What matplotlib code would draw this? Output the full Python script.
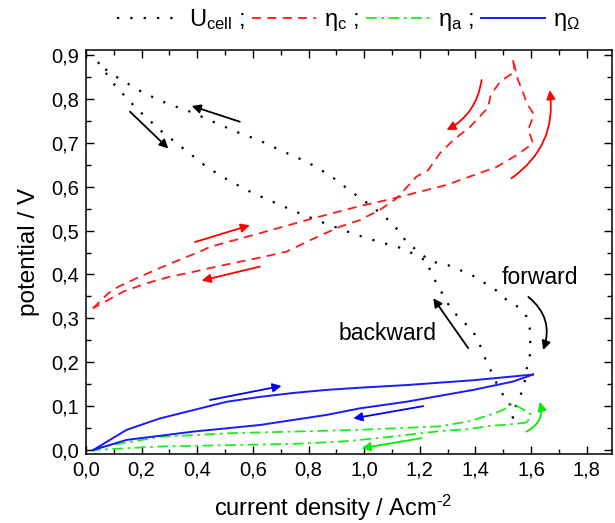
import matplotlib
matplotlib.use("Agg")
import matplotlib.pyplot as plt
from matplotlib.lines import Line2D
from matplotlib.ticker import MultipleLocator, FuncFormatter

plt.rcParams['font.family'] = ['Liberation Sans', 'DejaVu Sans']
plt.rcParams['mathtext.fontset'] = 'custom'
plt.rcParams['mathtext.rm'] = 'Liberation Sans'
plt.rcParams['mathtext.it'] = 'Liberation Sans:italic'
plt.rcParams['mathtext.bf'] = 'Liberation Sans:bold'

# ---------------- data (current density A/cm2, potential V) ----------------
ucell_fwd_x = [0.043, 0.104, 0.182, 0.266, 0.350, 0.434, 0.511, 0.601, 0.685, 0.769, 0.853, 0.973,
               1.056, 1.140, 1.218, 1.302, 1.386, 1.470, 1.512, 1.553, 1.584, 1.595, 1.597, 1.595,
               1.577, 1.577, 1.559, 1.541, 1.535]
ucell_fwd_y = [0.884, 0.831, 0.778, 0.729, 0.687, 0.645, 0.615, 0.585, 0.562, 0.539, 0.518, 0.490,
               0.474, 0.459, 0.433, 0.421, 0.399, 0.366, 0.342, 0.326, 0.304, 0.277, 0.251, 0.205,
               0.173, 0.148, 0.121, 0.095, 0.072]
ucell_bwd_x = [1.535, 1.518, 1.500, 1.480, 1.465, 1.446, 1.416, 1.392, 1.314, 1.260, 1.242, 1.218,
               1.152, 1.122, 1.080, 1.038, 0.997, 0.955, 0.877, 0.793, 0.709, 0.625, 0.541, 0.457,
               0.374, 0.290, 0.206, 0.128, 0.080, 0.043]
ucell_bwd_y = [0.072, 0.118, 0.125, 0.145, 0.170, 0.191, 0.239, 0.270, 0.319, 0.380, 0.402, 0.440,
               0.474, 0.501, 0.528, 0.550, 0.569, 0.588, 0.626, 0.657, 0.680, 0.705, 0.725, 0.748,
               0.771, 0.790, 0.814, 0.843, 0.862, 0.884]

etac_fwd_x = [0.025, 0.080, 0.116, 0.194, 0.278, 0.350, 0.410, 0.446, 0.625, 0.817, 0.973, 1.104,
              1.296, 1.476, 1.548, 1.607, 1.590, 1.610, 1.584, 1.572, 1.553, 1.535]
etac_fwd_y = [0.323, 0.357, 0.372, 0.395, 0.418, 0.437, 0.452, 0.463, 0.494, 0.528, 0.554, 0.573,
              0.604, 0.645, 0.672, 0.699, 0.730, 0.765, 0.790, 0.813, 0.843, 0.888]
etac_bwd_x = [1.535, 1.541, 1.490, 1.455, 1.445, 1.380, 1.320, 1.272, 1.230, 1.188, 1.116, 1.056,
              0.985, 0.913, 0.805, 0.721, 0.637, 0.553, 0.470, 0.386, 0.302, 0.218, 0.134, 0.080,
              0.025]
etac_bwd_y = [0.888, 0.862, 0.840, 0.810, 0.780, 0.736, 0.706, 0.676, 0.638, 0.623, 0.573, 0.547,
              0.524, 0.509, 0.478, 0.452, 0.440, 0.429, 0.418, 0.406, 0.395, 0.380, 0.361, 0.342,
              0.323]

etaa_fwd_x = [0.026, 0.062, 0.266, 0.506, 0.745, 0.985, 1.092, 1.272, 1.380, 1.452, 1.498, 1.535,
              1.577, 1.598, 1.588]
etaa_fwd_y = [0.000, 0.008, 0.030, 0.038, 0.042, 0.046, 0.049, 0.054, 0.066, 0.080, 0.091, 0.106,
              0.090, 0.082, 0.066]
etaa_bwd_x = [1.588, 1.577, 1.500, 1.452, 1.380, 1.272, 1.092, 0.985, 0.913, 0.745, 0.506, 0.266,
              0.026]
etaa_bwd_y = [0.066, 0.062, 0.057, 0.055, 0.048, 0.043, 0.030, 0.023, 0.019, 0.014, 0.011, 0.008,
              0.000]

etaohm_fwd_x = [0.026, 0.146, 0.266, 0.386, 0.506, 0.625, 0.745, 0.865, 0.985, 1.152, 1.392, 1.607]
etaohm_fwd_y = [0.000, 0.046, 0.072, 0.091, 0.110, 0.121, 0.130, 0.137, 0.142, 0.148, 0.159, 0.172]
etaohm_bwd_x = [1.607, 1.535, 1.392, 1.152, 0.985, 0.865, 0.625, 0.386, 0.146, 0.026]
etaohm_bwd_y = [0.172, 0.156, 0.137, 0.110, 0.095, 0.080, 0.057, 0.042, 0.023, 0.000]

# direction arrows: (x_start, y_start, x_end, y_end, color, curvature)
arrows = [
    (0.553, 0.748, 0.380, 0.784, 'black', 0.0),
    (0.158, 0.771, 0.296, 0.687, 'black', 0.0),
    (1.590, 0.349, 1.643, 0.228, 'black', -0.35),
    (1.374, 0.232, 1.248, 0.346, 'black', 0.0),
    (0.392, 0.474, 0.589, 0.512, 'red', 0.0),
    (0.625, 0.418, 0.416, 0.386, 'red', 0.0),
    (1.422, 0.843, 1.296, 0.729, 'red', -0.25),
    (1.529, 0.619, 1.667, 0.820, 'red', 0.3),
    (0.446, 0.114, 0.703, 0.146, 'blue', 0.0),
    (1.212, 0.100, 0.961, 0.072, 'blue', 0.0),
    (1.206, 0.027, 0.991, 0.004, '#00ee00', 0.0),
    (1.583, 0.042, 1.631, 0.110, '#00ee00', 0.4),
]

labels_text = [("forward", 1.631, 0.394), ("backward", 1.083, 0.265)]

# ---------------- figure ----------------
fig = plt.figure(figsize=(6.15, 5.23), dpi=100)
ax = fig.add_axes([0.1398, 0.132, 0.855, 0.772])

ucell_style = dict(color='black', lw=1.6, linestyle=(0, (1, 5)))
etac_style = dict(color='#ff1a1a', lw=1.3, linestyle=(0, (5, 3.5)))
etaa_style = dict(color='#1aee1a', lw=1.3, linestyle=(0, (6, 2.5, 1.5, 2.5)))
etaohm_style = dict(color='#1a1aff', lw=1.4, linestyle='-')

ax.plot(ucell_fwd_x, ucell_fwd_y, **ucell_style)
ax.plot(ucell_bwd_x, ucell_bwd_y, **ucell_style)
ax.plot(etac_fwd_x, etac_fwd_y, **etac_style)
ax.plot(etac_bwd_x, etac_bwd_y, **etac_style)
ax.plot(etaa_fwd_x, etaa_fwd_y, **etaa_style)
ax.plot(etaa_bwd_x, etaa_bwd_y, **etaa_style)
ax.plot(etaohm_fwd_x, etaohm_fwd_y, **etaohm_style)
ax.plot(etaohm_bwd_x, etaohm_bwd_y, **etaohm_style)

for x0, y0, x1, y1, c, rad in arrows:
    ax.annotate('', xy=(x1, y1), xytext=(x0, y0),
                arrowprops=dict(arrowstyle='-|>', color=c, lw=1.3, mutation_scale=13,
                                shrinkA=0, shrinkB=0,
                                connectionstyle=f'arc3,rad={rad}'))

for t, x, y in labels_text:
    ax.text(x, y, t, fontsize=16.5, ha='center', va='center')

ax.set_xlim(0, 1.89)
ax.set_ylim(-0.009, 0.911)
ax.xaxis.set_major_locator(MultipleLocator(0.2))
ax.xaxis.set_minor_locator(MultipleLocator(0.1))
ax.yaxis.set_major_locator(MultipleLocator(0.1))
ax.yaxis.set_minor_locator(MultipleLocator(0.05))
fmt = FuncFormatter(lambda v, p: f"{v:.1f}".replace('.', ','))
ax.xaxis.set_major_formatter(fmt)
ax.yaxis.set_major_formatter(fmt)
ax.tick_params(which='both', direction='in', top=True, right=True, labelsize=14.5, width=1.0)
ax.tick_params(which='major', length=6, pad=5)
ax.tick_params(which='minor', length=3.5)
for s in ax.spines.values():
    s.set_linewidth(1.1)

ax.set_xlabel('current density / Acm$^\\mathregular{\u2010 2}$', fontsize=17, labelpad=8)
ax.xaxis.set_label_coords(0.47, -0.095)
ax.set_ylabel('potential / V', fontsize=17.5, labelpad=8)

handles = [Line2D([], [], **ucell_style), Line2D([], [], **etac_style),
           Line2D([], [], **etaa_style), Line2D([], [], **etaohm_style)]
leg_labels = ['U$_\\mathregular{cell}$ ;', 'η$_\\mathregular{c}$ ;',
              'η$_\\mathregular{a}$ ;', 'η$_\\mathregular{Ω}$']
fig.legend(handles, leg_labels, loc='center', bbox_to_anchor=(0.567, 0.962), ncol=4,
           frameon=False, fontsize=17, handlelength=2.7, handletextpad=0.35,
           columnspacing=0.3, borderpad=0)

fig.savefig('out.png', dpi=100)
